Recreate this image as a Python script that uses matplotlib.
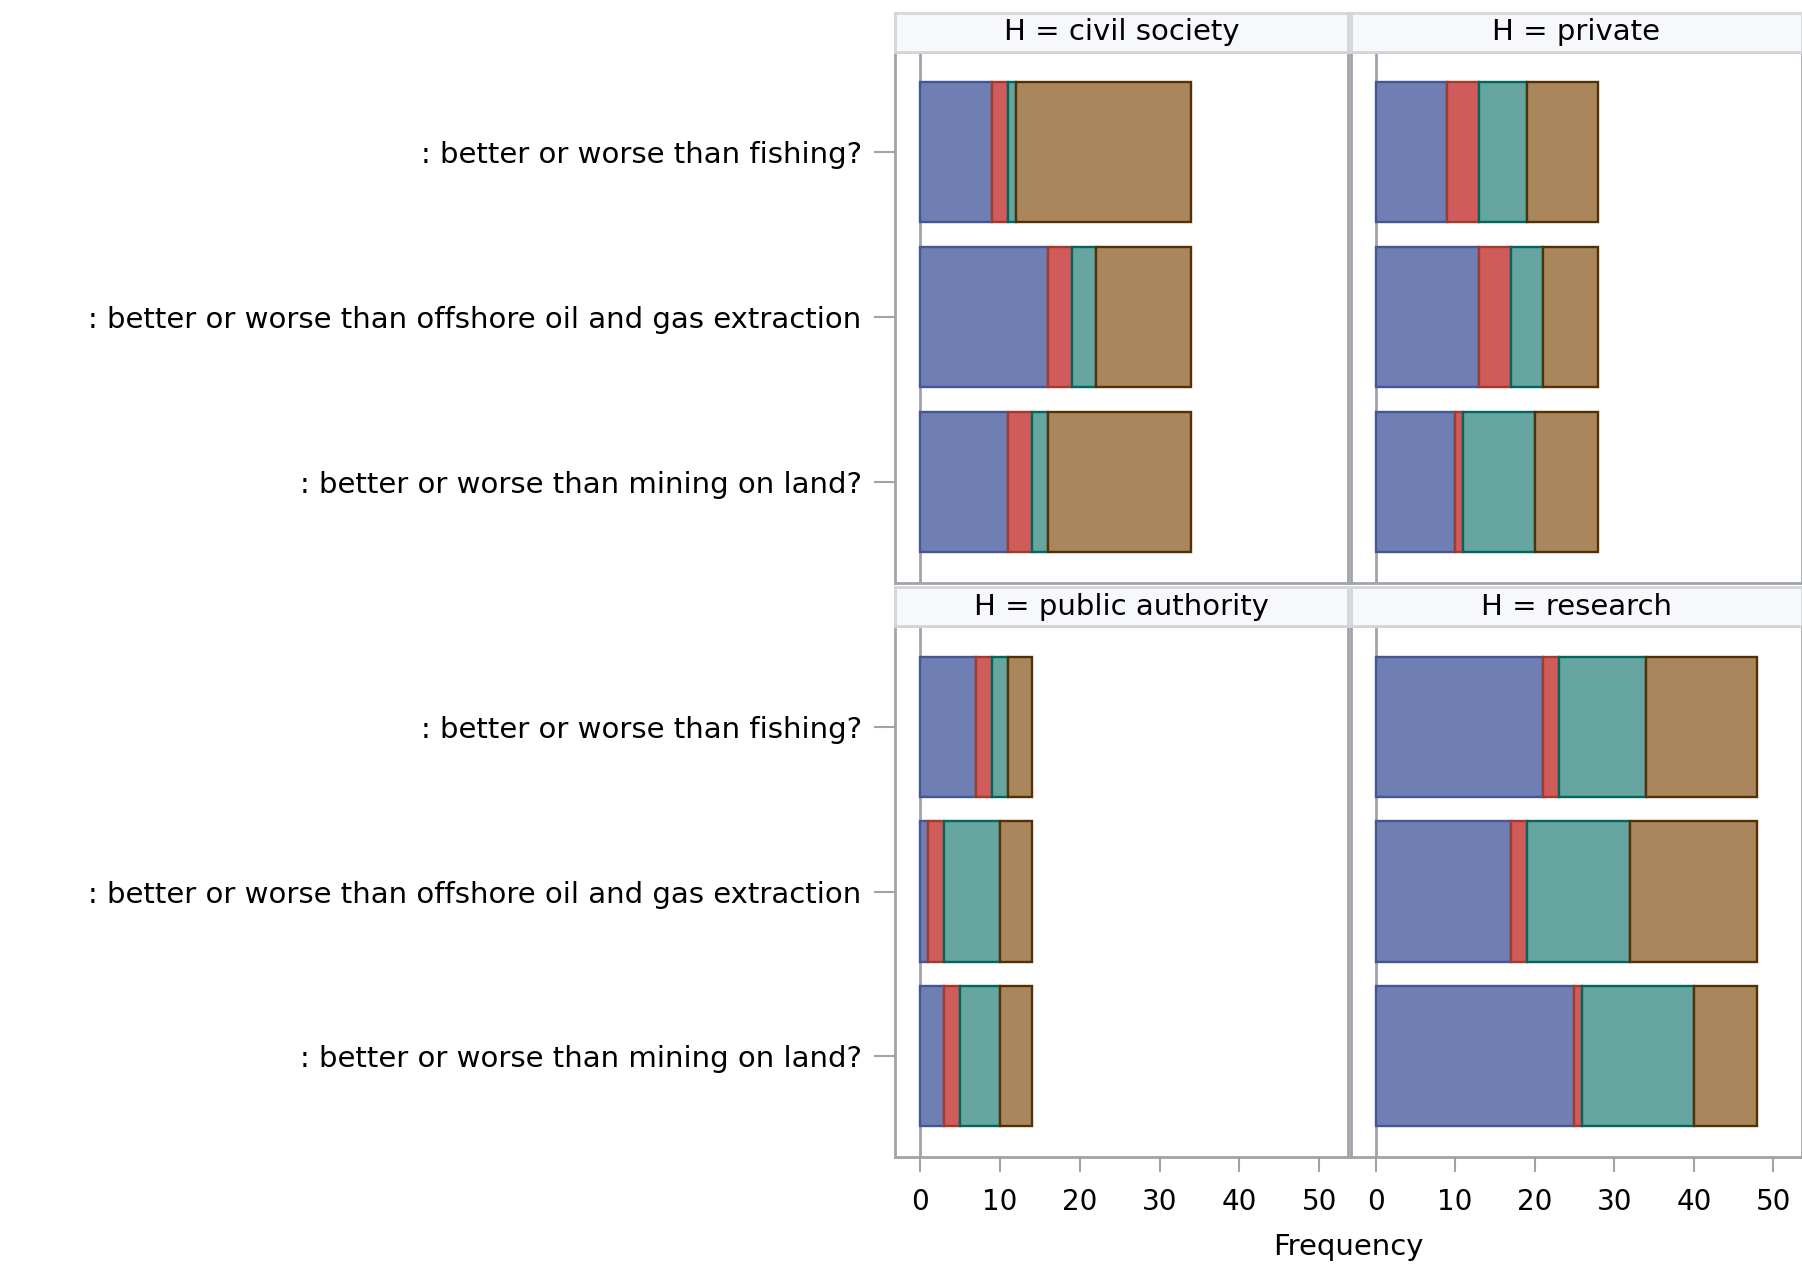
import matplotlib.pyplot as plt
import numpy as np

plt.rcParams['font.family'] = ['DejaVu Sans']

# categories (top to bottom)
questions = [': better or worse than fishing?',
             ': better or worse than offshore oil and gas extraction',
             ': better or worse than mining on land?']
groups = ['civil society', 'private', 'public authority', 'research']

# stacked counts per group: [fishing, offshore, mining] for each response level
civil_1 = [9, 16, 11]
civil_2 = [2, 3, 3]
civil_3 = [1, 3, 2]
civil_4 = [22, 12, 18]

private_1 = [9, 13, 10]
private_2 = [4, 4, 1]
private_3 = [6, 4, 9]
private_4 = [9, 7, 8]

public_1 = [7, 1, 3]
public_2 = [2, 2, 2]
public_3 = [2, 7, 5]
public_4 = [3, 4, 4]

research_1 = [21, 17, 25]
research_2 = [2, 2, 1]
research_3 = [11, 13, 14]
research_4 = [14, 16, 8]

data = {
    'civil society': [civil_1, civil_2, civil_3, civil_4],
    'private': [private_1, private_2, private_3, private_4],
    'public authority': [public_1, public_2, public_3, public_4],
    'research': [research_1, research_2, research_3, research_4],
}

fills = ['#6F7EB3', '#D05B5B', '#66A5A0', '#A9865B']
edges = ['#445694', '#A23A2E', '#01665E', '#543005']
frame_col = '#A0A4A8'

fig = plt.figure(figsize=(18.02, 12.65), dpi=100)

# panel rectangles in figure fractions
xs = [0.4967, 0.7497]
ws = [0.2514, 0.2503]
plot_ys = [0.5395, 0.0854]
plot_h = 0.4197
head_ys = [0.9591, 0.5051]
head_h = 0.0305

ypos = np.arange(len(questions))
fs = 21

for i, g in enumerate(groups):
    row, col = divmod(i, 2)
    ax = fig.add_axes([xs[col], plot_ys[row], ws[col], plot_h])
    left = np.zeros(len(questions))
    for vals, fc, ec in zip(data[g], fills, edges):
        ax.barh(ypos, vals, left=left, height=0.85, color=fc,
                edgecolor=ec, linewidth=1.7, zorder=3)
        left += np.array(vals)
    ax.axvline(0, color=frame_col, lw=2, zorder=2)
    ax.set_xlim(-3.1, 53.6)
    ax.set_ylim(2.61, -0.61)
    for s in ax.spines.values():
        s.set_color(frame_col)
        s.set_linewidth(2)
    ax.set_xticks([0, 10, 20, 30, 40, 50])
    ax.tick_params(axis='x', length=11, width=1.5, color=frame_col,
                   labelsize=20, pad=11)
    ax.tick_params(axis='y', length=15, width=1.5, color=frame_col,
                   labelsize=fs, pad=9)
    ax.set_yticks(ypos)
    if col == 0:
        ax.set_yticklabels(questions)
    else:
        ax.set_yticks([])
    if row == 0:
        ax.set_xticks([])
    # header strip
    hx = fig.add_axes([xs[col], head_ys[row], ws[col], head_h])
    hx.set_facecolor('#F7F8FC')
    hx.set_xticks([])
    hx.set_yticks([])
    for s in hx.spines.values():
        s.set_color('#D4D6D9')
        s.set_linewidth(2)
    hx.text(0.5, 0.5, 'H = ' + g, ha='center', va='center', fontsize=fs,
            transform=hx.transAxes)

fig.text(0.748, 0.0145, 'Frequency', ha='center', va='center', fontsize=fs)

fig.savefig('out.png', dpi=100)
